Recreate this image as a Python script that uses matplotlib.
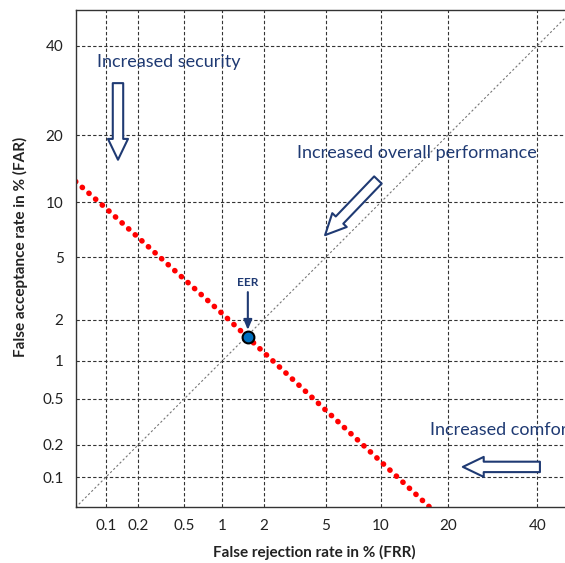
import numpy as np
import matplotlib
matplotlib.use("Agg")
import matplotlib.pyplot as plt
from statistics import NormalDist

nd = NormalDist()

# dados (em %)
frr = [0.05, 0.1, 1, 10, 16.9]
far = [12.6, 9.3, 2.2, 0.14, 0.05]
eer = (1.55, 1.5)
ticks = [0.1, 0.2, 0.5, 1, 2, 5, 10, 20, 40]
tick_labels = ["0.1", "0.2", "0.5", "1", "2", "5", "10", "20", "40"]
diag = [0.01, 60]

navy = "#1F3A73"
plt.rcParams['font.family'] = ['Lato', 'DejaVu Sans']


def probit(v):
    a = np.asarray(v, dtype=float)
    flat = np.clip(np.ravel(a) / 100.0, 1e-9, 1 - 1e-9)
    out = np.array([nd.inv_cdf(p) if np.isfinite(p) else np.nan for p in flat])
    return out.reshape(a.shape)


def inv_probit(v):
    a = np.asarray(v, dtype=float)
    out = np.array([nd.cdf(z) * 100.0 if np.isfinite(z) else np.nan for z in np.ravel(a)])
    return out.reshape(a.shape)


fig = plt.figure(figsize=(5.65, 5.63), dpi=100)
ax = fig.add_axes([76 / 565, 56 / 563, 489 / 565, 497 / 563])
ax.set_xscale("function", functions=(probit, inv_probit))
ax.set_yscale("function", functions=(probit, inv_probit))
ax.set_xlim(0.0505, 47.2)
ax.set_ylim(0.0506, 49.3)

ax.set_xticks(ticks)
ax.set_xticklabels(tick_labels)
ax.set_yticks(ticks)
ax.set_yticklabels(tick_labels)
ax.minorticks_off()
ax.tick_params(length=0, labelsize=11, colors="#222222")
ax.tick_params(axis="x", pad=9)
ax.tick_params(axis="y", pad=9)

ax.grid(True, color="#333333", linestyle=(0, (3, 2)), linewidth=0.8)
ax.spines["right"].set_visible(False)
for s in ["left", "bottom", "top"]:
    ax.spines[s].set_color("#333333")
    ax.spines[s].set_linewidth(1.0)

# diagonal FAR = FRR
ax.plot(diag, diag, color="#777777", linestyle=(0, (2, 2)), linewidth=0.8)

# curva
ax.plot(frr, far, color="#FF0000", linewidth=4, linestyle=(0, (0.05, 1.55)),
        dash_capstyle="round")

# EER
ax.annotate("", xy=(1.55, 1.69), xytext=(1.55, 3.05),
            arrowprops=dict(arrowstyle="-|>,head_length=0.6,head_width=0.25",
                            color=navy, lw=1.5, shrinkA=0, shrinkB=0))
ax.text(1.55, 3.5, "EER", color=navy, fontsize=8.5, fontweight="bold",
        ha="center", va="center")
ax.plot([eer[0]], [eer[1]], "o", color="#0070C0", markeredgecolor="black",
        markeredgewidth=1.5, markersize=8.5, zorder=5)

# textos e setas
ax.text(0.082, 35.9, "Increased security", color=navy, fontsize=13,
        ha="left", va="center")
ax.text(3.34, 16.9, "Increased overall performance", color=navy, fontsize=13,
        ha="left", va="center")
ax.text(16.9, 0.27, "Increased comfort", color=navy, fontsize=13,
        ha="left", va="center")

style = "simple,head_length=15,head_width=14.4,tail_width=7.5"
arrows = [((0.130, 15.8), (0.130, 30.9)),
          ((4.96, 6.7), (9.66, 12.8)),
          ((22.9, 0.125), (40.7, 0.125))]
for tip, tail in arrows:
    ax.annotate("", xy=tip, xytext=tail,
                arrowprops=dict(arrowstyle=style, mutation_scale=1,
                                fc="white", ec=navy, lw=1.5,
                                shrinkA=0, shrinkB=0))

ax.set_xlabel("False rejection rate in % (FRR)", fontsize=11, fontweight="bold",
              color="#222222")
ax.set_ylabel("False acceptance rate in % (FAR)", fontsize=11, fontweight="bold",
              color="#222222")
ax.xaxis.set_label_coords((314 - 76) / 489, -(552 - 507) / 497)
ax.yaxis.set_label_coords(-(76 - 20) / 489, (507 - 247) / 497)
ax.xaxis.label.set_va("center")
ax.yaxis.label.set_va("center")

fig.savefig("out.png", dpi=100)
